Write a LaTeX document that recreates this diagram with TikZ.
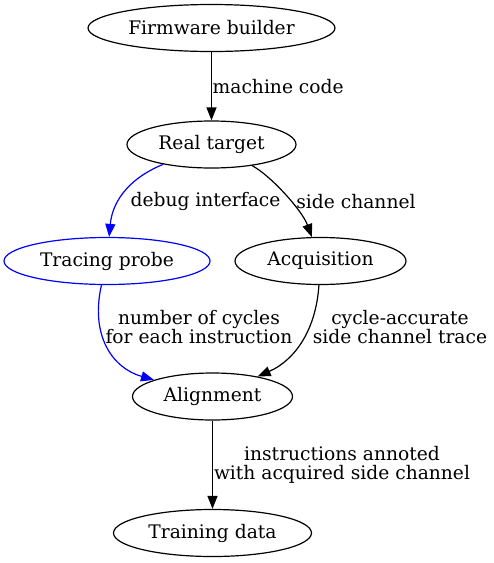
\documentclass[tikz,border=0pt]{standalone}
\usepackage{fontspec}
\setmainfont{DejaVu Serif}
\usetikzlibrary{arrows.meta,shapes.geometric}

\begin{document}
\begin{tikzpicture}[x=1pt, y=-1pt,
  every node/.style={font=\fontsize{18.67}{19}\selectfont},
  stage/.style={ellipse, draw, line width=1.2pt, inner sep=0pt, minimum height=47pt},
  flow/.style={-{Triangle[length=13pt,width=10pt]}, line width=1.2pt},
  lbl/.style={align=center, inner sep=0pt}]
  \useasboundingbox (0,0) rectangle (494,563);
  % tool chain
  \node[stage, minimum width=247pt] (fw)  at (211.5,28)  {Firmware builder};
  \node[stage, minimum width=169pt] (rt)  at (211.5,144.5) {Real target};
  \node[stage, minimum width=206pt, draw=blue] (tp) at (107,261) {Tracing probe};
  \node[stage, minimum width=171pt] (acq) at (320.5,261) {Acquisition};
  \node[stage, minimum width=160pt] (al)  at (212.5,396.5) {Alignment};
  \node[stage, minimum width=198pt] (td)  at (212.5,533) {Training data};
  % edge labels
  \node[lbl, anchor=west] (mc) at (212.5,87) {machine code};
  \node[lbl] (dbg) at (205.5,201.5) {debug interface};
  \node[lbl] (sc)  at (356,201.5) {side channel};
  \node[lbl] (cyc) at (199,327.5) {number of cycles\\for each instruction};
  \node[lbl] (tr)  at (400,327.5) {cycle-accurate\\side channel trace};
  \node[lbl] (ann) at (342,465) {instructions annoted\\with acquired side channel};
  % connectors
  \draw[flow] (fw) -- (rt);
  \draw[flow, blue] (rt) .. controls (125,180) and (112,205) .. (tp);
  \draw[flow] (rt) .. controls (270,175) and (302,210) .. (acq);
  \draw[flow, blue] (tp) .. controls (90,335) and (112,368) .. (al);
  \draw[flow] (acq) .. controls (316,330) and (295,360) .. (al);
  \draw[flow] (al) -- (td);
\end{tikzpicture}
\end{document}
